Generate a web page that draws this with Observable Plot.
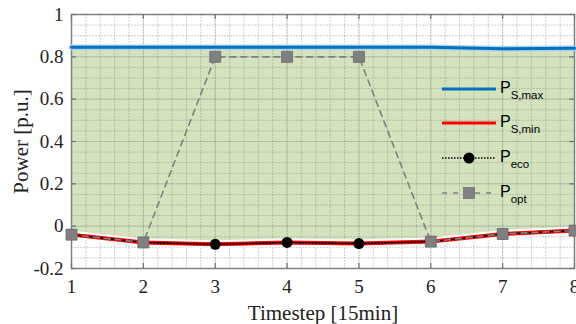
<!DOCTYPE html>
<html>
<head>
<meta charset="utf-8">
<script src="https://cdn.jsdelivr.net/npm/d3@7"></script>
<script src="https://cdn.jsdelivr.net/npm/@observablehq/plot@0.6"></script>
<style>
  html, body { margin: 0; padding: 0; background: #fff; }
  #wrap { position: relative; width: 576px; height: 324px; overflow: hidden; }
  #legend { position: absolute; left: 440px; top: 74px; font-family: "Liberation Sans", Arial, sans-serif; }
  .item { position: absolute; left: 0; width: 130px; height: 30px; }
  .item svg { position: absolute; left: 0; top: 0; }
  .item .lab { position: absolute; left: 60px; top: 5px; font-size: 16px; color: #000; white-space: nowrap; }
  .item .lab sub { font-size: 11.5px; vertical-align: -6px; }
</style>
</head>
<body>
<div id="wrap"><div id="chart"></div><div id="legend"></div></div>
<script>
const steps = [1, 2, 3, 4, 5, 6, 7, 8];
const pSmax = [0.845, 0.845, 0.845, 0.845, 0.845, 0.845, 0.838, 0.840];
const pSmin = [-0.040, -0.077, -0.086, -0.077, -0.082, -0.073, -0.037, -0.021];
const pEco  = [-0.040, -0.077, -0.086, -0.077, -0.082, -0.073, -0.037, -0.021];
const pOpt  = [-0.040, -0.077, 0.800, 0.800, 0.800, -0.073, -0.037, -0.021];
const xTicks = [1, 2, 3, 4, 5, 6, 7, 8];
const yTicks = [-0.2, 0, 0.2, 0.4, 0.6, 0.8, 1];
const legendLabels = [["P", "S,max"], ["P", "S,min"], ["P", "eco"], ["P", "opt"]];

const rows = steps.map((s, i) => ({s, max: pSmax[i], min: pSmin[i], eco: pEco[i], opt: pOpt[i]}));
const xMinor = d3.range(1, 8.0001, 0.2);
const yMinor = d3.range(-0.2, 1.0001, 0.05);

const W = 576, H = 324, mL = 71, mR = 2, mT = 14, mB = 56;
const innerH = H - mT - mB, innerW = W - mL - mR;

const chart = Plot.plot({
  width: W, height: H,
  marginLeft: mL, marginRight: mR, marginTop: mT, marginBottom: mB,
  style: {fontFamily: "Liberation Serif, Times New Roman, serif", fontSize: "19px", color: "#222", background: "#fff", overflow: "visible"},
  x: {domain: [1, 8]},
  y: {domain: [-0.2, 1]},
  marks: [
    Plot.areaY(rows, {x: "s", y1: "min", y2: "max", fill: "#d3e3bd", curve: "linear"}),
    Plot.ruleX(xMinor, {stroke: "#8a8a8a", strokeOpacity: 0.4, strokeWidth: 1, strokeDasharray: "2,1"}),
    Plot.ruleY(yMinor, {stroke: "#8a8a8a", strokeOpacity: 0.4, strokeWidth: 1, strokeDasharray: "2,1"}),
    Plot.ruleX(xTicks, {stroke: "#8a8a8a", strokeOpacity: 0.25, strokeWidth: 1}),
    Plot.ruleY(yTicks, {stroke: "#8a8a8a", strokeOpacity: 0.25, strokeWidth: 1}),
    Plot.frame({stroke: "#808080", strokeWidth: 1.5}),
    Plot.tickX(xTicks, {x: d => d, stroke: "#707070", strokeWidth: 1.2, insetTop: innerH - 5}),
    Plot.tickX(xTicks, {x: d => d, stroke: "#707070", strokeWidth: 1.2, insetBottom: innerH - 5}),
    Plot.tickY(yTicks, {y: d => d, stroke: "#707070", strokeWidth: 1.2, insetRight: innerW - 5}),
    Plot.tickY(yTicks, {y: d => d, stroke: "#707070", strokeWidth: 1.2, insetLeft: innerW - 5}),
    Plot.axisX(xTicks, {tickSize: 0, tickPadding: 11, fontSize: 19, label: null, tickFormat: d => String(d)}),
    Plot.axisX({label: "Timestep [15min]", ticks: [], tickSize: 0, fontSize: 21, labelAnchor: "center", labelArrow: "none", labelOffset: 51}),
    Plot.axisY(yTicks, {tickSize: 0, tickPadding: 8, fontSize: 19, label: null, tickFormat: d => String(+d.toFixed(1))}),
    Plot.axisY({label: "Power [p.u.]", ticks: [], tickSize: 0, fontSize: 21, labelAnchor: "center", labelArrow: "none", labelOffset: 58}),
    Plot.lineY(rows, {x: "s", y: "max", stroke: "#a9d0ee", strokeWidth: 5.5}),
    Plot.lineY(rows, {x: "s", y: "max", stroke: "#0072bd", strokeWidth: 3}),
    Plot.lineY(rows, {x: "s", y: "min", stroke: "#ffffff", strokeWidth: 8}),
    Plot.lineY(rows, {x: "s", y: "min", stroke: "#ff0000", strokeWidth: 4}),
    Plot.lineY(rows, {x: "s", y: "eco", stroke: "#000", strokeWidth: 1.6, strokeDasharray: "1.5,1.8"}),
    Plot.dot(rows, {x: "s", y: "eco", r: 5.5, fill: "#000", stroke: "none"}),
    Plot.lineY(rows, {x: "s", y: "opt", stroke: "#808080", strokeWidth: 1.6, strokeDasharray: "6,5"}),
    Plot.dot(rows, {x: "s", y: "opt", symbol: "square", r: 6.2, fill: "#808080", stroke: "#6a6a6a", strokeWidth: 0.8})
  ]
});
document.getElementById("chart").appendChild(chart);

// legend
const legend = document.getElementById("legend");
const tops = [0, 34, 69, 104];
const samples = [
  `<line x1="2" y1="15" x2="56" y2="15" stroke="#0072bd" stroke-width="3"/>`,
  `<line x1="2" y1="15" x2="56" y2="15" stroke="#ff0000" stroke-width="3"/>`,
  `<line x1="2" y1="15" x2="56" y2="15" stroke="#000" stroke-width="1.5" stroke-dasharray="1.5,1.5"/><circle cx="29" cy="15" r="5.5" fill="#000"/>`,
  `<line x1="2" y1="15" x2="56" y2="15" stroke="#808080" stroke-width="1.6" stroke-dasharray="5,6"/><rect x="23" y="9" width="12" height="12" fill="#808080"/>`
];
legendLabels.forEach((lab, i) => {
  const d = document.createElement("div");
  d.className = "item";
  d.style.top = tops[i] + "px";
  d.innerHTML = `<svg width="60" height="30">${samples[i]}</svg><span class="lab">${lab[0]}<sub>${lab[1]}</sub></span>`;
  legend.appendChild(d);
});
</script>
</body>
</html>
